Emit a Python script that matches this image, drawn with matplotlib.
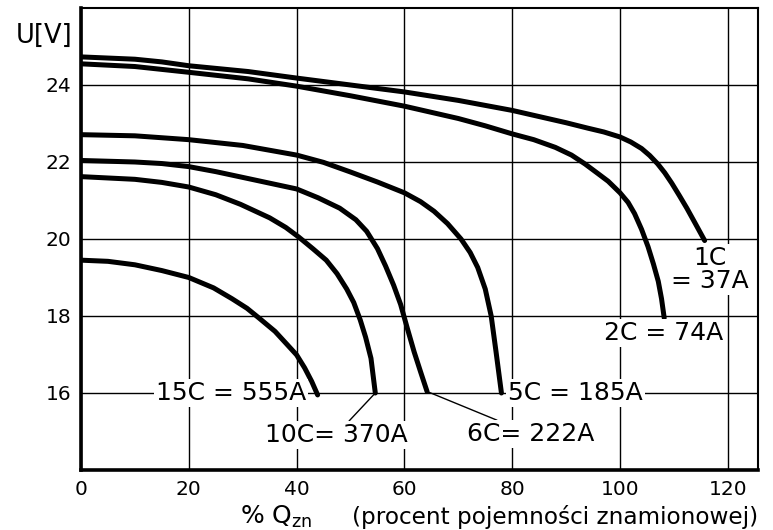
import matplotlib
matplotlib.use("Agg")
import matplotlib.pyplot as plt

plt.rcParams['font.family'] = ['DejaVu Sans']
plt.rcParams['mathtext.fontset'] = 'dejavusans'

# discharge curves: % of rated capacity vs voltage
x_1c = [0, 10, 15, 20, 31, 40, 50, 60, 70, 80, 85, 90, 94, 97, 100, 102, 104, 105.5, 107, 108.3, 109.6, 111, 112.4, 113.9, 115.7]
y_1c = [24.73, 24.67, 24.60, 24.50, 24.35, 24.18, 24.0, 23.82, 23.6, 23.34, 23.18, 23.02, 22.88, 22.78, 22.65, 22.52, 22.35, 22.17, 21.95, 21.72, 21.45, 21.13, 20.8, 20.42, 19.96]

x_2c = [0, 10, 20, 31, 40, 50, 60, 70, 75, 80, 84, 88, 91, 93.5, 95.9, 97.8, 100, 101.5, 102.7, 104, 105.2, 106.2, 107.1, 107.7, 108.2]
y_2c = [24.55, 24.48, 24.33, 24.16, 23.97, 23.72, 23.45, 23.13, 22.94, 22.73, 22.58, 22.38, 22.18, 21.95, 21.7, 21.5, 21.2, 20.95, 20.66, 20.25, 19.8, 19.35, 18.9, 18.45, 17.95]

x_5c = [0, 10, 20, 30, 40, 45, 50, 55, 60, 63, 65.5, 68, 70.5, 72.2, 73.6, 75, 76.1, 77.0, 78.0]
y_5c = [22.71, 22.68, 22.58, 22.43, 22.18, 21.99, 21.74, 21.48, 21.2, 20.97, 20.72, 20.4, 20.0, 19.65, 19.26, 18.7, 18.0, 17.07, 16.0]

x_6c = [0, 10, 15, 20, 25, 30, 35, 40, 44, 48, 51, 53, 55, 56.5, 58, 59.3, 60.5, 61.8, 63, 64.2]
y_6c = [22.04, 22.0, 21.96, 21.88, 21.75, 21.6, 21.45, 21.3, 21.07, 20.8, 20.5, 20.2, 19.75, 19.3, 18.8, 18.3, 17.7, 17.07, 16.55, 16.04]

x_10c = [0, 10, 15, 20, 25, 29.6, 35, 38, 40.4, 43, 45.5, 47.5, 49.3, 50.6, 51.8, 52.8, 53.8, 54.6]
y_10c = [21.62, 21.55, 21.47, 21.35, 21.15, 20.9, 20.55, 20.3, 20.05, 19.75, 19.45, 19.1, 18.7, 18.35, 17.9, 17.45, 16.9, 16.0]

x_15c = [0, 5, 10, 15, 20, 24.6, 28, 30.8, 33, 36, 38.3, 40, 41.5, 42.8, 43.9]
y_15c = [19.45, 19.42, 19.33, 19.18, 19.0, 18.73, 18.45, 18.2, 17.95, 17.6, 17.25, 16.99, 16.65, 16.3, 15.95]

x_ticks = [0, 20, 40, 60, 80, 100, 120]
y_ticks = [16, 18, 20, 22, 24]

fig = plt.figure(figsize=(7.73, 5.30), dpi=100)
ax = fig.add_axes([81 / 773, 1 - 470 / 530, (758 - 81) / 773, (470 - 8) / 530])

for xs, ys in [(x_1c, y_1c), (x_2c, y_2c), (x_5c, y_5c), (x_6c, y_6c), (x_10c, y_10c), (x_15c, y_15c)]:
    ax.plot(xs, ys, color='black', lw=3.6, solid_capstyle='round', solid_joinstyle='round', zorder=3)

ax.set_xlim(0, 125.6)
ax.set_ylim(14, 26)
ax.set_xticks(x_ticks)
ax.set_yticks(y_ticks)
ax.tick_params(length=0, labelsize=14.5, pad=7)
ax.grid(True, color='black', lw=1.0, zorder=1)
ax.set_axisbelow(True)

for side in ['left', 'bottom']:
    ax.spines[side].set_linewidth(2.6)
for side in ['top', 'right']:
    ax.spines[side].set_linewidth(1.5)

box = dict(facecolor='white', edgecolor='none', pad=1.5)
fs = 18

ax.text(41.8, 16, '15C = 555A', ha='right', va='center', fontsize=fs, bbox=box, zorder=4)
ax.text(79.2, 16, '5C = 185A', ha='left', va='center', fontsize=fs, bbox=box, zorder=4)
ax.text(116.7, 19.2, '1C\n= 37A', ha='center', va='center', multialignment='center',
        fontsize=fs, linespacing=0.95, bbox=box, zorder=4)
ax.text(108.0, 17.56, '2C = 74A', ha='center', va='center', fontsize=fs, bbox=box, zorder=4)

ax.annotate('6C= 222A', xy=(x_6c[-1], y_6c[-1]), xytext=(83.5, 14.93),
            ha='center', va='center', fontsize=fs, bbox=box, zorder=4,
            arrowprops=dict(arrowstyle='-', color='black', lw=1.0, shrinkA=0, shrinkB=0))
ax.annotate('10C= 370A', xy=(x_10c[-1], y_10c[-1]), xytext=(47.3, 14.91),
            ha='center', va='center', fontsize=fs, bbox=box, zorder=4,
            arrowprops=dict(arrowstyle='-', color='black', lw=1.0, shrinkA=0, shrinkB=0))

fig.text(72 / 773, 1 - 36 / 530, 'U[V]', ha='right', va='center', fontsize=18.5)
fig.text(240 / 773, 6 / 530, r'% Q$_{\mathrm{zn}}$', ha='left', va='baseline', fontsize=18)
fig.text(758 / 773, 6 / 530, '(procent pojemności znamionowej)', ha='right', va='baseline', fontsize=16.7)

plt.savefig('out.png', dpi=100)
